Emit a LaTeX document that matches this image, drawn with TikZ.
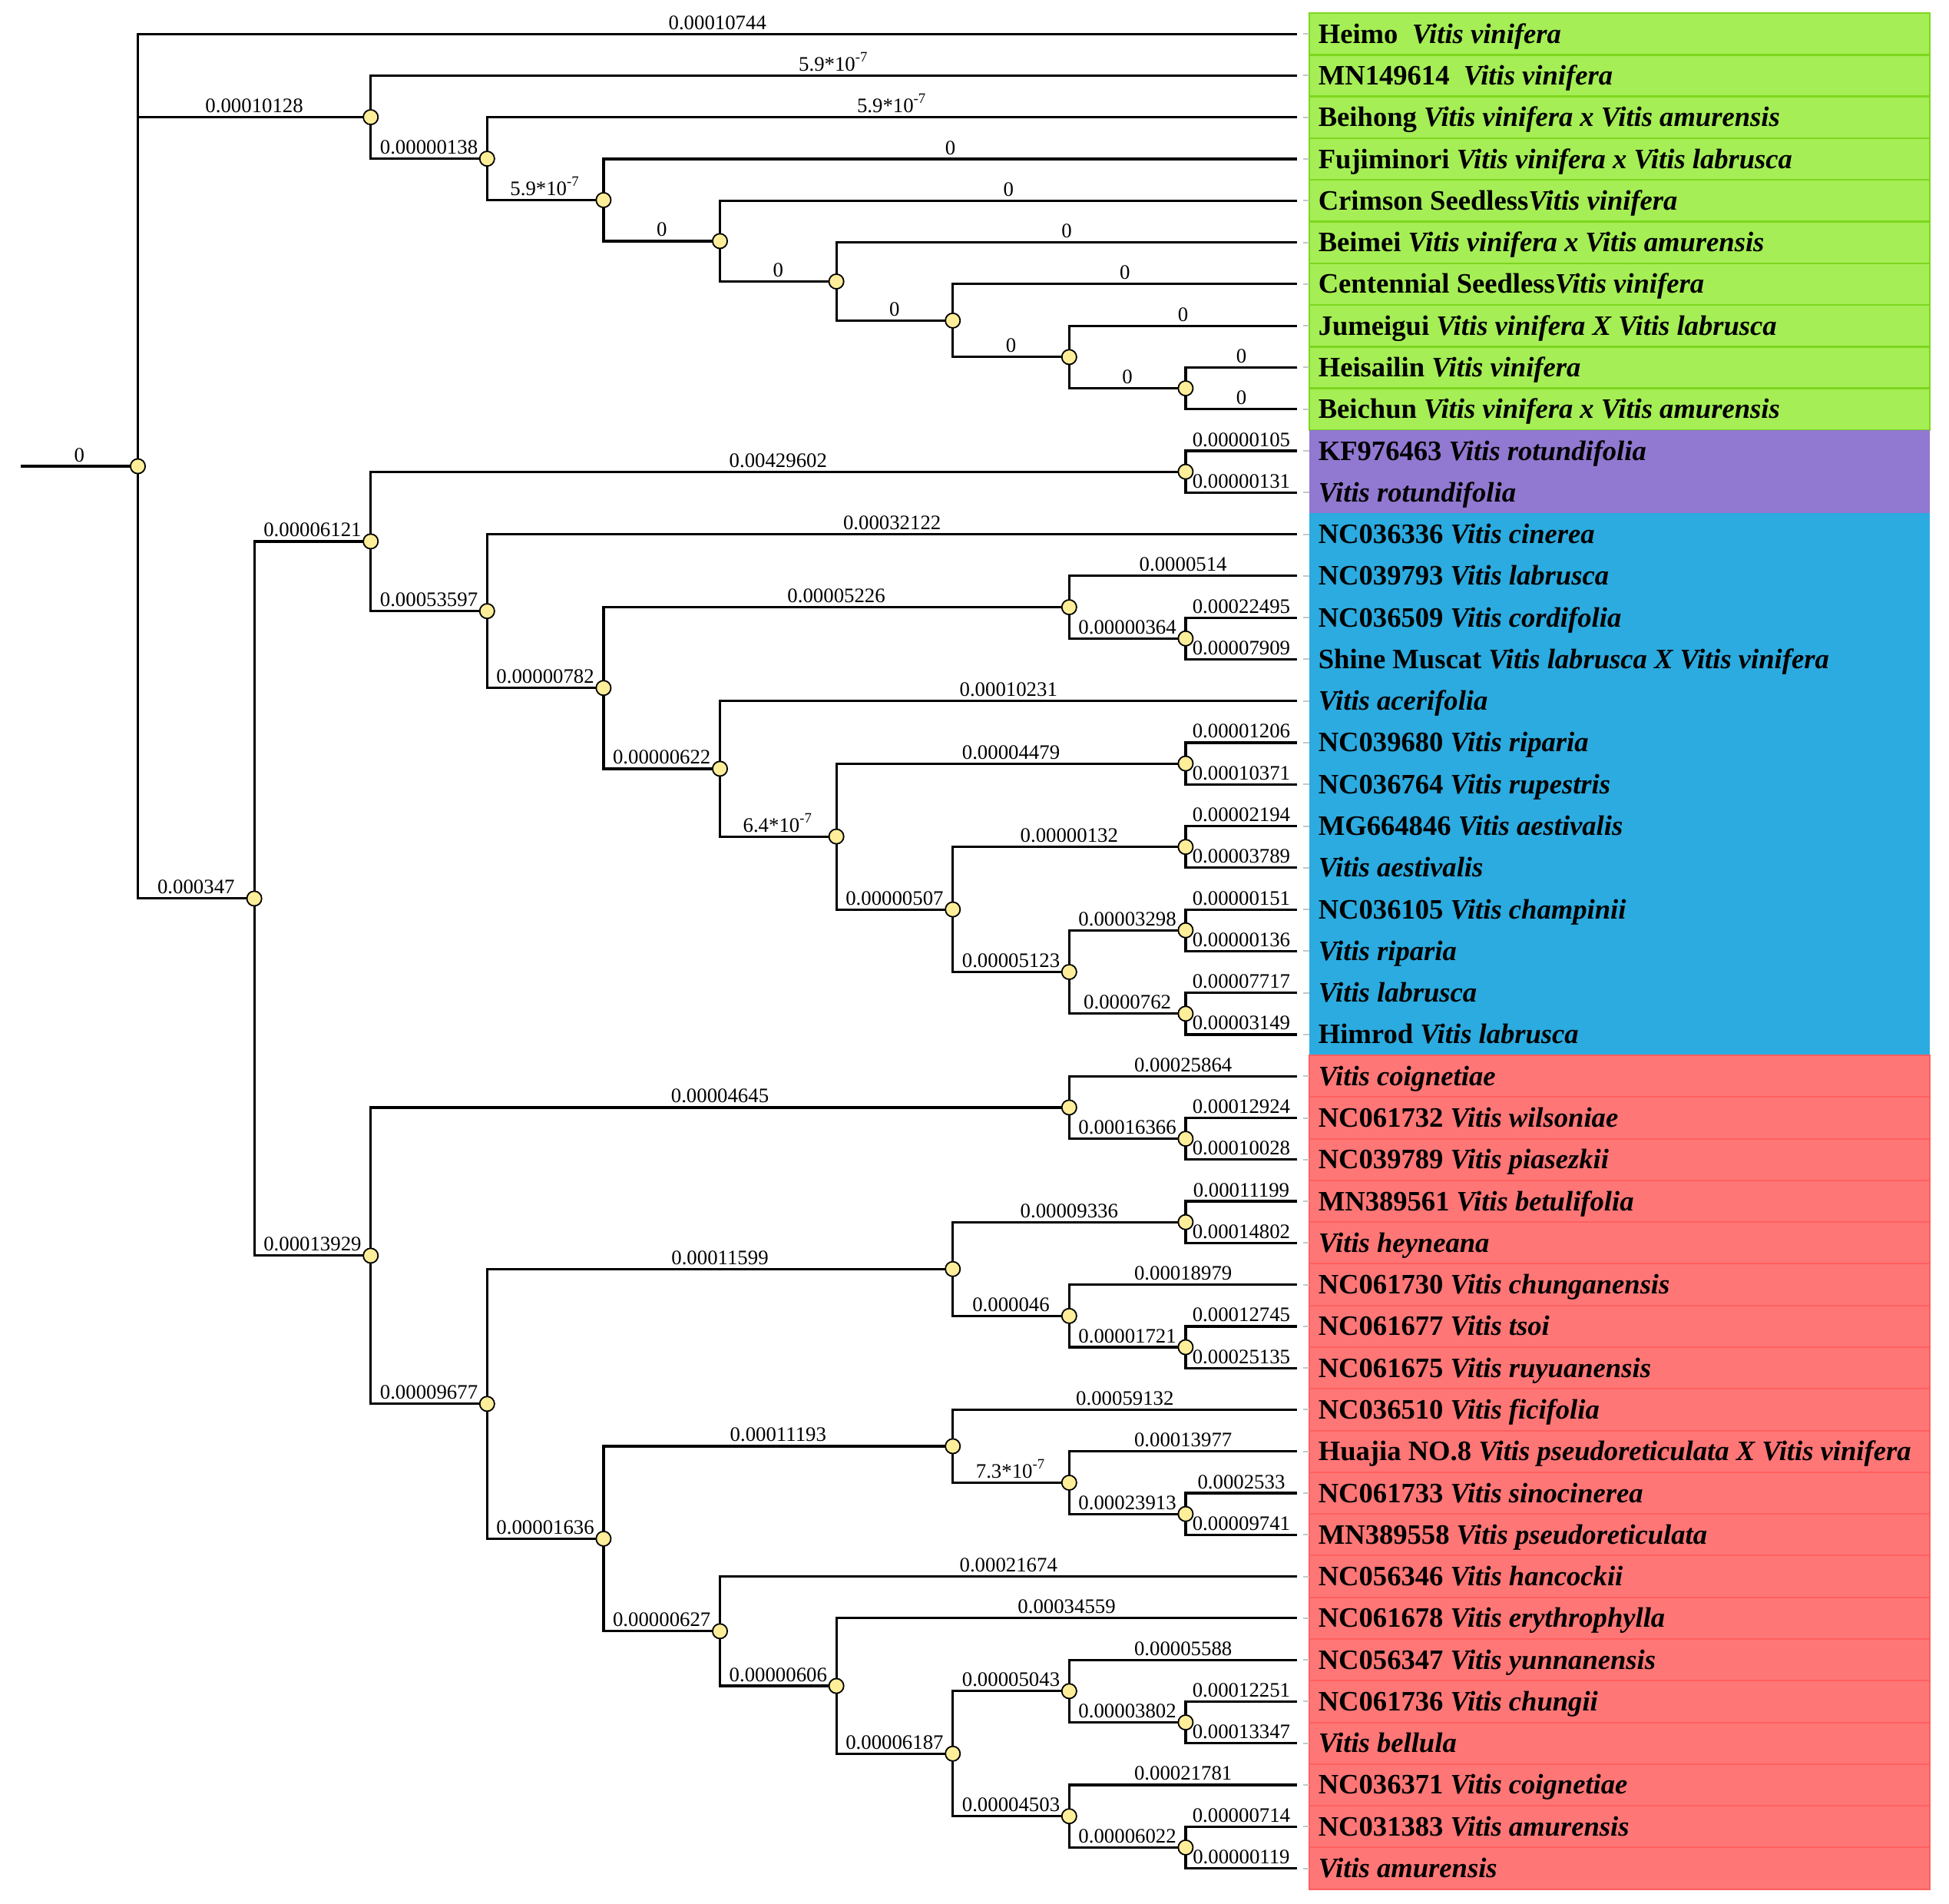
\documentclass[tikz,border=0pt]{standalone}
\usepackage{fontspec}
\setmainfont{Liberation Serif}

\definecolor{vinfill}{RGB}{165,238,85}
\definecolor{vinline}{RGB}{125,215,30}
\definecolor{rotfill}{RGB}{145,120,208}
\definecolor{amerfill}{RGB}{43,171,224}
\definecolor{asiafill}{RGB}{255,118,118}
\definecolor{asialine}{RGB}{255,96,96}
\definecolor{knotfill}{RGB}{255,238,153}

\begin{document}
\begin{tikzpicture}[
  x=0.25pt, y=-13.57pt,
  font=\fontsize{6.7}{8}\selectfont,
  branch/.style={line width=0.8pt},
  knot/.style={circle,draw,line width=0.45pt,fill=knotfill,minimum size=4.8pt,inner sep=0pt},
  len/.style={anchor=base,yshift=1.5pt,inner sep=0pt},
  taxon/.style={anchor=base west,yshift=-3pt,inner sep=0pt,font=\fontsize{9.15}{11}\selectfont\bfseries},
  guide/.style={draw=black!22,line width=0.5pt},
  vinbox/.style={fill=vinfill,draw=vinline,line width=0.6pt},
  asiabox/.style={fill=asiafill,draw=asialine,line width=0.5pt}]

  \useasboundingbox (0,0.1857) rectangle (2538,45.838);

  % Coloured bands behind the taxa (one row per leaf)
  \foreach \i in {1,...,10} \draw[vinbox] (1705,{\i-.5}) rectangle (2513,{\i+.5});
  \fill[rotfill] (1705,10.5) rectangle (2513,12.5);
  \fill[amerfill] (1705,12.5) rectangle (2513,25.5);
  \foreach \i in {26,...,45} \draw[asiabox] (1705,{\i-.5}) rectangle (2513,{\i+.5});
  \coordinate (edge) at (1705,0);

  % Leaf ends, x = 1689, one row each
  \foreach \i in {1,...,45} \coordinate (l\i) at (1689,\i);

  % Inner nodes: x = level, y = middle of the outer children
  \coordinate (stem) at (27,11.36914);
  \coordinate (root) at (179.5,11.36914);
  \coordinate (vin1) at (482.7,2.99609);
  \coordinate (vin2) at (634.3,3.99219);
  \coordinate (vin3) at (785.9,4.98438);
  \coordinate (vin4) at (937.5,5.96875);
  \coordinate (vin5) at (1089.1,6.9375);
  \coordinate (vin6) at (1240.7,7.875);
  \coordinate (vin7) at (1392.3,8.75);
  \coordinate (vin8) at (1543.9,9.5);
  \coordinate (core) at (331.1,21.73828);
  \coordinate (amer) at (482.7,13.17188);
  \coordinate (rot) at (1543.9,11.5);
  \coordinate (amer1) at (634.3,14.84375);
  \coordinate (amer2) at (785.9,16.6875);
  \coordinate (amer3) at (1392.3,14.75);
  \coordinate (amer3b) at (1543.9,15.5);
  \coordinate (amer4) at (937.5,18.625);
  \coordinate (amer5) at (1089.1,20.25);
  \coordinate (amer6) at (1543.9,18.5);
  \coordinate (amer7) at (1240.7,22);
  \coordinate (amer8) at (1543.9,20.5);
  \coordinate (amer9) at (1392.3,23.5);
  \coordinate (amer10) at (1543.9,22.5);
  \coordinate (amer11) at (1543.9,24.5);
  \coordinate (asia) at (482.7,30.30469);
  \coordinate (asia1) at (1392.3,26.75);
  \coordinate (asia1b) at (1543.9,27.5);
  \coordinate (asia2) at (634.3,33.85938);
  \coordinate (asia3) at (1240.7,30.625);
  \coordinate (asia4) at (1543.9,29.5);
  \coordinate (asia5) at (1392.3,31.75);
  \coordinate (asia6) at (1543.9,32.5);
  \coordinate (asia7) at (785.9,37.09375);
  \coordinate (asia8) at (1240.7,34.875);
  \coordinate (asia9) at (1392.3,35.75);
  \coordinate (asia10) at (1543.9,36.5);
  \coordinate (asia11) at (937.5,39.3125);
  \coordinate (asia12) at (1089.1,40.625);
  \coordinate (asia13) at (1240.7,42.25);
  \coordinate (asia14) at (1392.3,40.75);
  \coordinate (asia15) at (1543.9,41.5);
  \coordinate (asia16) at (1392.3,43.75);
  \coordinate (asia17) at (1543.9,44.5);

  % Draw the branches and label them with their lengths
  \draw[branch] (stem) -- (root) node[len,midway] {0};
  \draw[branch] (root) |- (l1) node[len,pos=.75] {0.00010744};
  \draw[branch] (root) |- (vin1) node[len,pos=.75] {0.00010128};
  \draw[branch] (root) |- (core) node[len,pos=.75] {0.000347};
  \draw[branch] (vin1) |- (l2) node[len,pos=.75] {5.9*10\textsuperscript{-7}};
  \draw[branch] (vin1) |- (vin2) node[len,pos=.75] {0.00000138};
  \draw[branch] (vin2) |- (l3) node[len,pos=.75] {5.9*10\textsuperscript{-7}};
  \draw[branch] (vin2) |- (vin3) node[len,pos=.75] {5.9*10\textsuperscript{-7}};
  \draw[branch] (vin3) |- (l4) node[len,pos=.75] {0};
  \draw[branch] (vin3) |- (vin4) node[len,pos=.75] {0};
  \draw[branch] (vin4) |- (l5) node[len,pos=.75] {0};
  \draw[branch] (vin4) |- (vin5) node[len,pos=.75] {0};
  \draw[branch] (vin5) |- (l6) node[len,pos=.75] {0};
  \draw[branch] (vin5) |- (vin6) node[len,pos=.75] {0};
  \draw[branch] (vin6) |- (l7) node[len,pos=.75] {0};
  \draw[branch] (vin6) |- (vin7) node[len,pos=.75] {0};
  \draw[branch] (vin7) |- (l8) node[len,pos=.75] {0};
  \draw[branch] (vin7) |- (vin8) node[len,pos=.75] {0};
  \draw[branch] (vin8) |- (l9) node[len,pos=.75] {0};
  \draw[branch] (vin8) |- (l10) node[len,pos=.75] {0};

  \draw[branch] (core) |- (amer) node[len,pos=.75] {0.00006121};
  \draw[branch] (core) |- (asia) node[len,pos=.75] {0.00013929};
  \draw[branch] (amer) |- (rot) node[len,pos=.75] {0.00429602};
  \draw[branch] (rot) |- (l11) node[len,pos=.75] {0.00000105};
  \draw[branch] (rot) |- (l12) node[len,pos=.75] {0.00000131};
  \draw[branch] (amer) |- (amer1) node[len,pos=.75] {0.00053597};
  \draw[branch] (amer1) |- (l13) node[len,pos=.75] {0.00032122};
  \draw[branch] (amer1) |- (amer2) node[len,pos=.75] {0.00000782};
  \draw[branch] (amer2) |- (amer3) node[len,pos=.75] {0.00005226};
  \draw[branch] (amer3) |- (l14) node[len,pos=.75] {0.0000514};
  \draw[branch] (amer3) |- (amer3b) node[len,pos=.75] {0.00000364};
  \draw[branch] (amer3b) |- (l15) node[len,pos=.75] {0.00022495};
  \draw[branch] (amer3b) |- (l16) node[len,pos=.75] {0.00007909};
  \draw[branch] (amer2) |- (amer4) node[len,pos=.75] {0.00000622};
  \draw[branch] (amer4) |- (l17) node[len,pos=.75] {0.00010231};
  \draw[branch] (amer4) |- (amer5) node[len,pos=.75] {6.4*10\textsuperscript{-7}};
  \draw[branch] (amer5) |- (amer6) node[len,pos=.75] {0.00004479};
  \draw[branch] (amer6) |- (l18) node[len,pos=.75] {0.00001206};
  \draw[branch] (amer6) |- (l19) node[len,pos=.75] {0.00010371};
  \draw[branch] (amer5) |- (amer7) node[len,pos=.75] {0.00000507};
  \draw[branch] (amer7) |- (amer8) node[len,pos=.75] {0.00000132};
  \draw[branch] (amer8) |- (l20) node[len,pos=.75] {0.00002194};
  \draw[branch] (amer8) |- (l21) node[len,pos=.75] {0.00003789};
  \draw[branch] (amer7) |- (amer9) node[len,pos=.75] {0.00005123};
  \draw[branch] (amer9) |- (amer10) node[len,pos=.75] {0.00003298};
  \draw[branch] (amer10) |- (l22) node[len,pos=.75] {0.00000151};
  \draw[branch] (amer10) |- (l23) node[len,pos=.75] {0.00000136};
  \draw[branch] (amer9) |- (amer11) node[len,pos=.75] {0.0000762};
  \draw[branch] (amer11) |- (l24) node[len,pos=.75] {0.00007717};
  \draw[branch] (amer11) |- (l25) node[len,pos=.75] {0.00003149};

  \draw[branch] (asia) |- (asia1) node[len,pos=.75] {0.00004645};
  \draw[branch] (asia1) |- (l26) node[len,pos=.75] {0.00025864};
  \draw[branch] (asia1) |- (asia1b) node[len,pos=.75] {0.00016366};
  \draw[branch] (asia1b) |- (l27) node[len,pos=.75] {0.00012924};
  \draw[branch] (asia1b) |- (l28) node[len,pos=.75] {0.00010028};
  \draw[branch] (asia) |- (asia2) node[len,pos=.75] {0.00009677};
  \draw[branch] (asia2) |- (asia3) node[len,pos=.75] {0.00011599};
  \draw[branch] (asia3) |- (asia4) node[len,pos=.75] {0.00009336};
  \draw[branch] (asia4) |- (l29) node[len,pos=.75] {0.00011199};
  \draw[branch] (asia4) |- (l30) node[len,pos=.75] {0.00014802};
  \draw[branch] (asia3) |- (asia5) node[len,pos=.75] {0.000046};
  \draw[branch] (asia5) |- (l31) node[len,pos=.75] {0.00018979};
  \draw[branch] (asia5) |- (asia6) node[len,pos=.75] {0.00001721};
  \draw[branch] (asia6) |- (l32) node[len,pos=.75] {0.00012745};
  \draw[branch] (asia6) |- (l33) node[len,pos=.75] {0.00025135};
  \draw[branch] (asia2) |- (asia7) node[len,pos=.75] {0.00001636};
  \draw[branch] (asia7) |- (asia8) node[len,pos=.75] {0.00011193};
  \draw[branch] (asia8) |- (l34) node[len,pos=.75] {0.00059132};
  \draw[branch] (asia8) |- (asia9) node[len,pos=.75] {7.3*10\textsuperscript{-7}};
  \draw[branch] (asia9) |- (l35) node[len,pos=.75] {0.00013977};
  \draw[branch] (asia9) |- (asia10) node[len,pos=.75] {0.00023913};
  \draw[branch] (asia10) |- (l36) node[len,pos=.75] {0.0002533};
  \draw[branch] (asia10) |- (l37) node[len,pos=.75] {0.00009741};
  \draw[branch] (asia7) |- (asia11) node[len,pos=.75] {0.00000627};
  \draw[branch] (asia11) |- (l38) node[len,pos=.75] {0.00021674};
  \draw[branch] (asia11) |- (asia12) node[len,pos=.75] {0.00000606};
  \draw[branch] (asia12) |- (l39) node[len,pos=.75] {0.00034559};
  \draw[branch] (asia12) |- (asia13) node[len,pos=.75] {0.00006187};
  \draw[branch] (asia13) |- (asia14) node[len,pos=.75] {0.00005043};
  \draw[branch] (asia14) |- (l40) node[len,pos=.75] {0.00005588};
  \draw[branch] (asia14) |- (asia15) node[len,pos=.75] {0.00003802};
  \draw[branch] (asia15) |- (l41) node[len,pos=.75] {0.00012251};
  \draw[branch] (asia15) |- (l42) node[len,pos=.75] {0.00013347};
  \draw[branch] (asia13) |- (asia16) node[len,pos=.75] {0.00004503};
  \draw[branch] (asia16) |- (l43) node[len,pos=.75] {0.00021781};
  \draw[branch] (asia16) |- (asia17) node[len,pos=.75] {0.00006022};
  \draw[branch] (asia17) |- (l44) node[len,pos=.75] {0.00000714};
  \draw[branch] (asia17) |- (l45) node[len,pos=.75] {0.00000119};

  % Short grey ticks between leaf ends and the bands
  \foreach \i in {1,...,45} \draw[guide] ([xshift=2pt]l\i) -- (l\i -| edge);

  % Yellow knots on top of the inner nodes
  \foreach \n in {root,vin1,vin2,vin3,vin4,vin5,vin6,vin7,vin8,core,amer,rot,
    amer1,amer2,amer3,amer3b,amer4,amer5,amer6,amer7,amer8,amer9,amer10,amer11,
    asia,asia1,asia1b,asia2,asia3,asia4,asia5,asia6,asia7,asia8,asia9,asia10,
    asia11,asia12,asia13,asia14,asia15,asia16,asia17}
    \node[knot] (k-\n) at (\n) {};

  % Taxon names
  \node[taxon] (t1) at (1716,1) {Heimo\enspace\textit{Vitis vinifera}};
  \node[taxon] (t2) at (1716,2) {MN149614\enspace\textit{Vitis vinifera}};
  \node[taxon] (t3) at (1716,3) {Beihong \textit{Vitis vinifera x Vitis amurensis}};
  \node[taxon] (t4) at (1716,4) {Fujiminori \textit{Vitis vinifera x Vitis labrusca}};
  \node[taxon] (t5) at (1716,5) {Crimson Seedless\textit{Vitis vinifera}};
  \node[taxon] (t6) at (1716,6) {Beimei \textit{Vitis vinifera x Vitis amurensis}};
  \node[taxon] (t7) at (1716,7) {Centennial Seedless\textit{Vitis vinifera}};
  \node[taxon] (t8) at (1716,8) {Jumeigui \textit{Vitis vinifera X Vitis labrusca}};
  \node[taxon] (t9) at (1716,9) {Heisailin \textit{Vitis vinifera}};
  \node[taxon] (t10) at (1716,10) {Beichun \textit{Vitis vinifera x Vitis amurensis}};
  \node[taxon] (t11) at (1716,11) {KF976463 \textit{Vitis rotundifolia}};
  \node[taxon] (t12) at (1716,12) {\textit{Vitis rotundifolia}};
  \node[taxon] (t13) at (1716,13) {NC036336 \textit{Vitis cinerea}};
  \node[taxon] (t14) at (1716,14) {NC039793 \textit{Vitis labrusca}};
  \node[taxon] (t15) at (1716,15) {NC036509 \textit{Vitis cordifolia}};
  \node[taxon] (t16) at (1716,16) {Shine Muscat \textit{Vitis labrusca X Vitis vinifera}};
  \node[taxon] (t17) at (1716,17) {\textit{Vitis acerifolia}};
  \node[taxon] (t18) at (1716,18) {NC039680 \textit{Vitis riparia}};
  \node[taxon] (t19) at (1716,19) {NC036764 \textit{Vitis rupestris}};
  \node[taxon] (t20) at (1716,20) {MG664846 \textit{Vitis aestivalis}};
  \node[taxon] (t21) at (1716,21) {\textit{Vitis aestivalis}};
  \node[taxon] (t22) at (1716,22) {NC036105 \textit{Vitis champinii}};
  \node[taxon] (t23) at (1716,23) {\textit{Vitis riparia}};
  \node[taxon] (t24) at (1716,24) {\textit{Vitis labrusca}};
  \node[taxon] (t25) at (1716,25) {Himrod \textit{Vitis labrusca}};
  \node[taxon] (t26) at (1716,26) {\textit{Vitis coignetiae}};
  \node[taxon] (t27) at (1716,27) {NC061732 \textit{Vitis wilsoniae}};
  \node[taxon] (t28) at (1716,28) {NC039789 \textit{Vitis piasezkii}};
  \node[taxon] (t29) at (1716,29) {MN389561 \textit{Vitis betulifolia}};
  \node[taxon] (t30) at (1716,30) {\textit{Vitis heyneana}};
  \node[taxon] (t31) at (1716,31) {NC061730 \textit{Vitis chunganensis}};
  \node[taxon] (t32) at (1716,32) {NC061677 \textit{Vitis tsoi}};
  \node[taxon] (t33) at (1716,33) {NC061675 \textit{Vitis ruyuanensis}};
  \node[taxon] (t34) at (1716,34) {NC036510 \textit{Vitis ficifolia}};
  \node[taxon] (t35) at (1716,35) {Huajia NO.8 \textit{Vitis pseudoreticulata X Vitis vinifera}};
  \node[taxon] (t36) at (1716,36) {NC061733 \textit{Vitis sinocinerea}};
  \node[taxon] (t37) at (1716,37) {MN389558 \textit{Vitis pseudoreticulata}};
  \node[taxon] (t38) at (1716,38) {NC056346 \textit{Vitis hancockii}};
  \node[taxon] (t39) at (1716,39) {NC061678 \textit{Vitis erythrophylla}};
  \node[taxon] (t40) at (1716,40) {NC056347 \textit{Vitis yunnanensis}};
  \node[taxon] (t41) at (1716,41) {NC061736 \textit{Vitis chungii}};
  \node[taxon] (t42) at (1716,42) {\textit{Vitis bellula}};
  \node[taxon] (t43) at (1716,43) {NC036371 \textit{Vitis coignetiae}};
  \node[taxon] (t44) at (1716,44) {NC031383 \textit{Vitis amurensis}};
  \node[taxon] (t45) at (1716,45) {\textit{Vitis amurensis}};
\end{tikzpicture}
\end{document}
